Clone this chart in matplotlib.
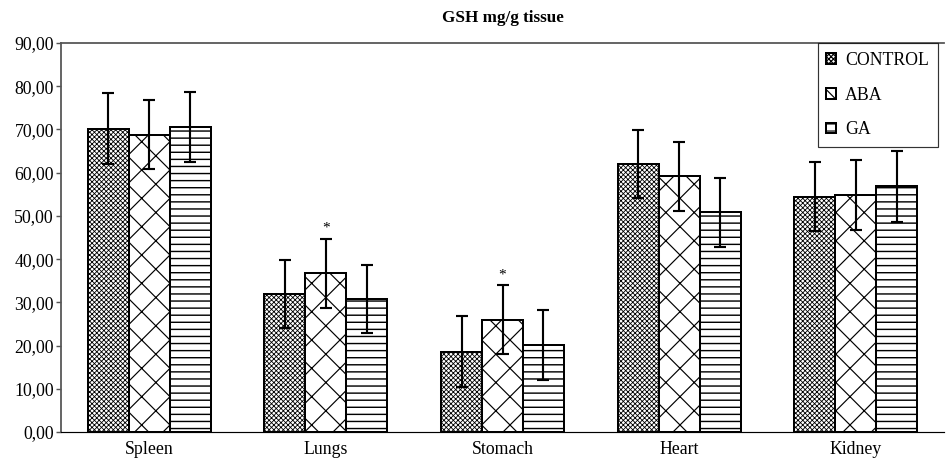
import matplotlib
matplotlib.use("Agg")
import matplotlib.pyplot as plt
import numpy as np

plt.rcParams['font.family'] = ['Liberation Serif', 'DejaVu Serif']

categories = ["Spleen", "Lungs", "Stomach", "Heart", "Kidney"]
series_names = ["CONTROL", "ABA", "GA"]
control = [70.2, 32.0, 18.6, 62.0, 54.4]
aba = [68.8, 36.7, 26.0, 59.2, 54.8]
ga = [70.6, 30.8, 20.2, 50.8, 56.8]
control_err = [8.2, 7.9, 8.2, 7.9, 8.0]
aba_err = [8.0, 8.0, 7.9, 8.0, 8.1]
ga_err = [8.1, 7.8, 8.1, 7.9, 8.1]
significant_aba = [False, True, True, False, False]
yticks = [0, 10, 20, 30, 40, 50, 60, 70, 80, 90]
title = "GSH mg/g tissue"

DPI = 85
fig = plt.figure(figsize=(948 / DPI, 463 / DPI), dpi=DPI)
ax = fig.add_axes([61 / 948, 31 / 463, 883 / 948, 389 / 463])

x = np.arange(len(categories))
w = 0.232
offsets = [-w, 0, w]
hatches = ['xxxxxx', 'x', '--']
hlw = [0.7, 1.0, 1.2]
data = [control, aba, ga]
errs = [control_err, aba_err, ga_err]

for i in range(3):
    with plt.rc_context({'hatch.linewidth': hlw[i]}):
        ax.bar(x + offsets[i], data[i], width=w, color='white',
               edgecolor='black', linewidth=1.7, hatch=hatches[i],
               label=series_names[i], zorder=2)
    ax.errorbar(x + offsets[i], data[i], yerr=errs[i], fmt='none',
                ecolor='black', elinewidth=1.8, capsize=5.5, capthick=1.8,
                zorder=3)

for j, sig in enumerate(significant_aba):
    if sig:
        ax.text(x[j], aba[j] + aba_err[j] + 1.0, '*', ha='center',
                va='bottom', fontsize=13)

ax.set_xlim(-0.5, len(categories) - 0.5)
ax.set_ylim(0, 90)
ax.set_yticks(yticks)
ax.set_yticklabels([f"{v:.2f}".replace('.', ',') for v in yticks],
                   fontsize=15)
ax.set_xticks(x)
ax.set_xticklabels(categories, fontsize=15)
ax.tick_params(axis='x', length=0, pad=8)
ax.tick_params(axis='y', length=4, width=1.2, color='#555555', pad=2)

for s in ['left', 'top']:
    ax.spines[s].set_color('#555555')
    ax.spines[s].set_linewidth(1.5)
ax.spines['right'].set_visible(False)
ax.spines['bottom'].set_color('black')
ax.spines['bottom'].set_linewidth(1.0)

fig.text((61 + 944) / 2 / 948, 1 - 18 / 463, title, ha='center', va='center',
         fontsize=14.5, fontweight='bold')

leg = ax.legend(loc='upper right', bbox_to_anchor=(0.993, 1.0),
                borderaxespad=0, fontsize=15, frameon=True, fancybox=False,
                edgecolor='black', handlelength=0.55, handleheight=0.55,
                labelspacing=1.0, borderpad=0.5, handletextpad=0.5)
leg.get_frame().set_linewidth(1.0)

fig.savefig("out.png", dpi=DPI)
